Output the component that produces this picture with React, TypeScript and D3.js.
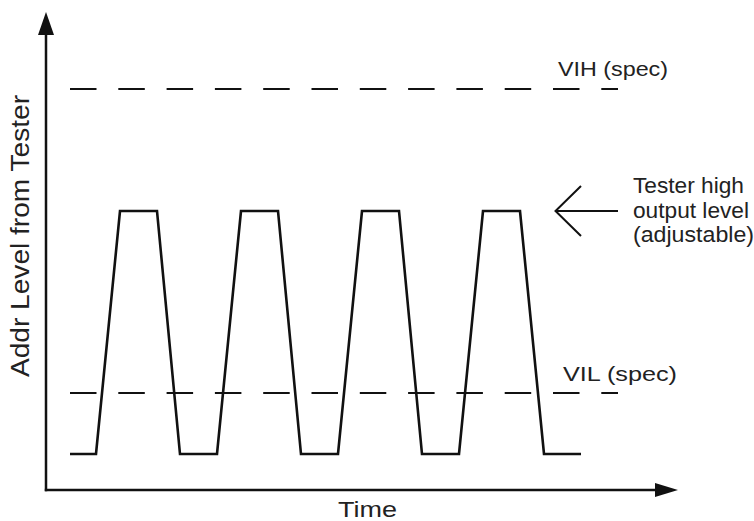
import React from "react";
import * as d3 from "d3";

// Waveform breakpoints (time units, level units)
const waveTimes = [24, 50, 74, 111, 134, 171, 195, 232, 255, 292, 316, 353, 376, 413, 437, 474, 498, 535];
const waveLevels = [36, 36, 279, 279, 36, 36, 279, 279, 36, 36, 279, 279, 36, 36, 279, 279, 36, 36];

const specLevels = [
  { name: "VIH (spec)", level: 401, labelT: 512, labelLevel: 422, width: 110 },
  { name: "VIL (spec)", level: 97, labelT: 517, labelLevel: 117, width: 114 },
];
const specStart = 24;
const specEnd = 572;

const noteLines = ["Tester high", "output level", "(adjustable)"];
const noteWidths = [111, 116, 121];

const xLabel = "Time";
const yLabel = "Addr Level from Tester";

const W = 754;
const H = 521;

export default function App() {
  const x = d3.scaleLinear().domain([0, 632]).range([46, 678]);
  const y = d3.scaleLinear().domain([0, 478]).range([490, 12]);

  const pts: [number, number][] = waveTimes.map((t, i) => [t, waveLevels[i]]);
  const line = d3
    .line<[number, number]>()
    .x((d) => x(d[0]))
    .y((d) => y(d[1]));

  const highY = y(279);
  const font = "'Liberation Sans', Arial, sans-serif";

  return (
    <svg
      width={W}
      height={H}
      style={{ position: "absolute", left: 0, top: 0, background: "#fff" }}
      fontFamily={font}
    >
      <rect width={W} height={H} fill="#fff" />
      {/* spec dashed lines */}
      {specLevels.map((s) => (
        <g key={s.name}>
          <line
            x1={x(specStart)}
            x2={x(specEnd)}
            y1={y(s.level)}
            y2={y(s.level)}
            stroke="#111"
            strokeWidth={2.2}
            strokeDasharray="26.5 21.8"
          />
          <text
            x={x(s.labelT)}
            y={y(s.labelLevel) + 8}
            fontSize={21}
            fill="#222"
            textLength={s.width}
            lengthAdjust="spacingAndGlyphs"
          >
            {s.name}
          </text>
        </g>
      ))}
      {/* waveform */}
      <path d={line(pts) || ""} fill="none" stroke="#111" strokeWidth={2.6} strokeLinejoin="miter" />
      {/* axes */}
      <line x1={x(0)} x2={x(0)} y1={y(0) + 1.2} y2={y(455)} stroke="#111" strokeWidth={2.5} />
      <path d={`M${x(0)},${y(478)} L${x(0) - 8},${y(455)} L${x(0) + 8},${y(455)} Z`} fill="#111" />
      <line x1={x(0) - 1.2} x2={x(609)} y1={y(0)} y2={y(0)} stroke="#111" strokeWidth={2.5} />
      <path d={`M${x(632)},${y(0)} L${x(609)},${y(0) - 7} L${x(609)},${y(0) + 7} Z`} fill="#111" />
      {/* annotation arrow */}
      <line x1={555} x2={618} y1={highY} y2={highY} stroke="#111" strokeWidth={2} />
      <polyline
        points={`581,${highY - 25} 555.5,${highY} 581,${highY + 25}`}
        fill="none"
        stroke="#111"
        strokeWidth={2}
      />
      {noteLines.map((t, i) => (
        <text
          key={t}
          x={633}
          y={193 + i * 24.7}
          fontSize={22}
          fill="#222"
          textLength={noteWidths[i]}
          lengthAdjust="spacingAndGlyphs"
        >
          {t}
        </text>
      ))}
      {/* axis labels */}
      <text x={338} y={517} fontSize={22} fill="#222" textLength={59} lengthAdjust="spacingAndGlyphs">
        {xLabel}
      </text>
      <text
        transform={`translate(29,236) rotate(-90)`}
        textAnchor="middle"
        fontSize={26}
        fill="#222"
        textLength={282}
        lengthAdjust="spacingAndGlyphs"
      >
        {yLabel}
      </text>
    </svg>
  );
}
